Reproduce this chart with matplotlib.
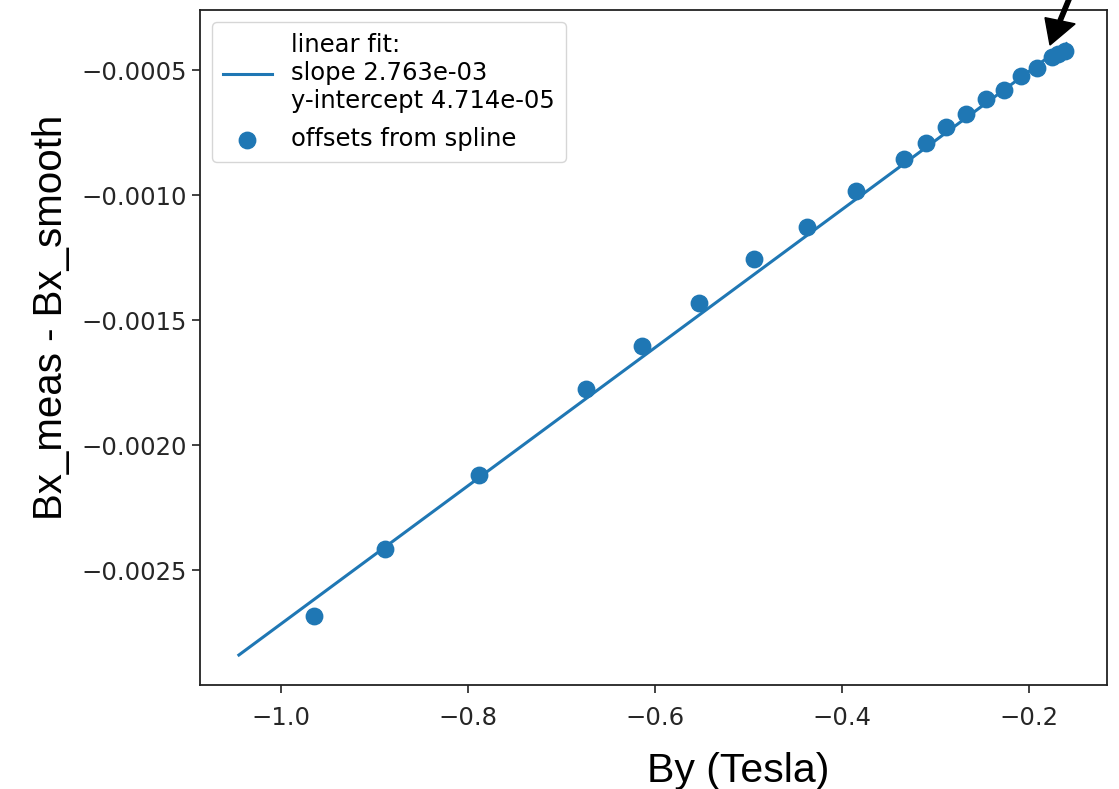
import matplotlib
matplotlib.use("Agg")
import matplotlib.pyplot as plt
from matplotlib.patches import FancyArrow

# data
by_tesla = [-0.9647, -0.8888, -0.7882, -0.6738, -0.6139, -0.5529, -0.4941,
            -0.4374, -0.3850, -0.3337, -0.3102, -0.2888, -0.2674, -0.2460,
            -0.2267, -0.2086, -0.1914, -0.1754, -0.1690, -0.1620]
offsets = [-0.002683, -0.002416, -0.002118, -0.001775, -0.001604, -0.001432,
           -0.001257, -0.001129, -0.000982, -0.000855, -0.000791, -0.000727,
           -0.000675, -0.000616, -0.000580, -0.000524, -0.000492, -0.000448,
           -0.000435, -0.000425]
fit_x = [-1.045, -0.160]
fit_y = [-0.002840, -0.000395]
fit_label = "linear fit:\nslope 2.763e-03\ny-intercept 4.714e-05"
scatter_label = "offsets from spline"
x_ticks = [-1.0, -0.8, -0.6, -0.4, -0.2]
y_ticks = [-0.0025, -0.0020, -0.0015, -0.0010, -0.0005]

W, H = 1119, 789
fig = plt.figure(figsize=(W / 100, H / 100), dpi=100)
ax = fig.add_axes([200 / W, 1 - 685 / H, 907 / W, 675 / H])

blue = "#1f77b4"
ax.plot(fit_x, fit_y, color=blue, lw=2.2, label=fit_label)
ax.scatter(by_tesla, offsets, s=140, color=blue, label=scatter_label, zorder=3)

ax.set_xlim(-1.0866, -0.1166)
ax.set_ylim(-0.00296, -0.00026)
ax.set_xticks(x_ticks)
ax.set_yticks(y_ticks)
ax.set_xticklabels([f"\u2212{abs(v):.1f}" for v in x_ticks])
ax.set_yticklabels([f"\u2212{abs(v):.4f}" for v in y_ticks])
ax.tick_params(labelsize=17.5, length=6, width=1.2, colors="#222222",
               labelcolor="#262626")
ax.tick_params(axis="x", pad=9)
for sp in ax.spines.values():
    sp.set_linewidth(1.3)
    sp.set_color("#222222")

leg = ax.legend(loc="upper left", fontsize=17.5, frameon=True, handlelength=2.0,
                borderpad=0.45, labelspacing=0.6, handletextpad=0.8,
                borderaxespad=0.5)
leg.get_frame().set_edgecolor("#cccccc")

label_family = ["Liberation Sans", "DejaVu Sans"]
fig.text(738 / W, 1 - 782 / H, "By (Tesla)", family=label_family, fontsize=29.5,
         ha="center", va="baseline")
fig.text(62 / W, 1 - 317 / H, "Bx_meas - Bx_smooth", family=label_family,
         fontsize=29, ha="center", va="baseline", rotation=90,
         rotation_mode="anchor")

# black arrow pointing at the top-right points
tail = (1072 / W, 1 + 8 / H)
tip = (1050 / W, 1 - 45 / H)
fig.add_artist(FancyArrow(tail[0], tail[1], tip[0] - tail[0], tip[1] - tail[1],
                          width=0.004, head_width=0.028, head_length=0.032,
                          length_includes_head=True, color="black",
                          transform=fig.transFigure, clip_on=False))

fig.savefig("out.png", dpi=100)
